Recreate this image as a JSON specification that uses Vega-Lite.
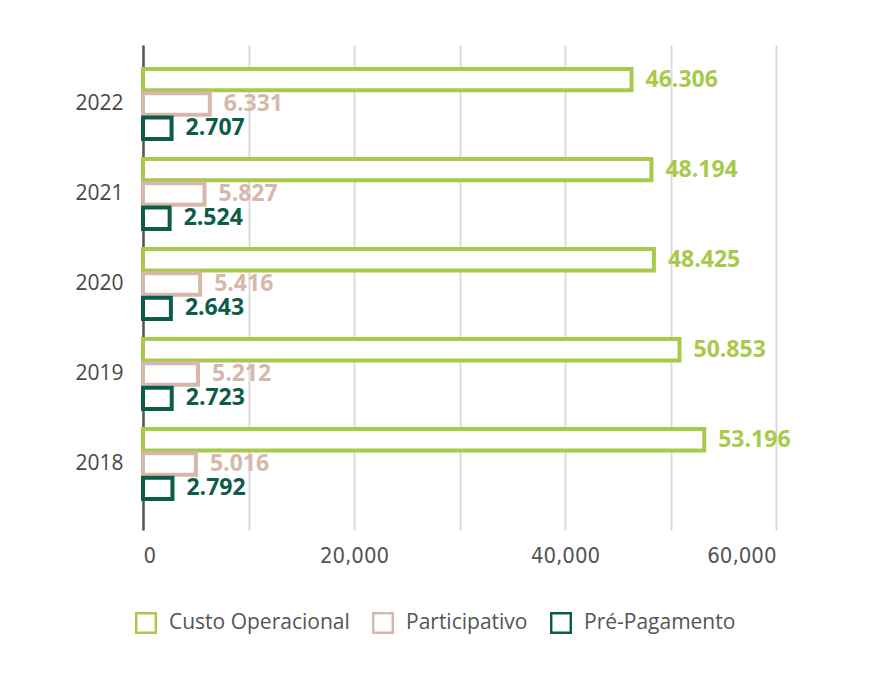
{
  "$schema": "https://vega.github.io/schema/vega-lite/v6.json",
  "width": 633,
  "height": 485,
  "autosize": {"type": "none"},
  "padding": {"left": 143, "top": 45, "right": 101, "bottom": 143},
  "background": "white",
  "config": {
    "locale": {"number": {"decimal": ",", "thousands": ".", "grouping": [3], "currency": ["", ""]}},
    "view": {"stroke": null}
  },
  "data": {
    "values": [
      {"year": "2022", "serie": "Custo Operacional", "value": 46306},
      {"year": "2022", "serie": "Participativo", "value": 6331},
      {"year": "2022", "serie": "Pré-Pagamento", "value": 2707},
      {"year": "2021", "serie": "Custo Operacional", "value": 48194},
      {"year": "2021", "serie": "Participativo", "value": 5827},
      {"year": "2021", "serie": "Pré-Pagamento", "value": 2524},
      {"year": "2020", "serie": "Custo Operacional", "value": 48425},
      {"year": "2020", "serie": "Participativo", "value": 5416},
      {"year": "2020", "serie": "Pré-Pagamento", "value": 2643},
      {"year": "2019", "serie": "Custo Operacional", "value": 50853},
      {"year": "2019", "serie": "Participativo", "value": 5212},
      {"year": "2019", "serie": "Pré-Pagamento", "value": 2723},
      {"year": "2018", "serie": "Custo Operacional", "value": 53196},
      {"year": "2018", "serie": "Participativo", "value": 5016},
      {"year": "2018", "serie": "Pré-Pagamento", "value": 2792}
    ]
  },
  "encoding": {
    "y": {
      "field": "year", "type": "nominal", "sort": "descending",
      "scale": {"paddingInner": 0, "paddingOuter": 0.194, "align": 0.4},
      "axis": {"title": null, "domainColor": "#555555", "domainWidth": 2.5, "ticks": false, "labelPadding": 20, "labelFontSize": 21, "labelColor": "#474747", "labelFont": "Open Sans", "grid": false}
    },
    "yOffset": {
      "field": "serie", "type": "nominal",
      "sort": ["Custo Operacional", "Participativo", "Pré-Pagamento"],
      "scale": {"paddingInner": 0.12, "paddingOuter": 0.41}
    },
    "x": {
      "field": "value", "type": "quantitative",
      "scale": {"domain": [0, 60000]},
      "axis": {
        "title": null,
        "values": [0, 10000, 20000, 30000, 40000, 50000, 60000],
        "labelExpr": "datum.value % 20000 === 0 ? replace(datum.label, '.', ',') : ''",
        "domain": false, "ticks": false,
        "gridColor": "#dcdcdc", "gridWidth": 2,
        "labelPadding": 15, "labelFontSize": 22, "labelFont": "DejaVu Sans Condensed, Roboto Condensed, Roboto, sans-serif", "labelColor": "#555555"
      }
    }
  },
  "layer": [
    {
      "mark": {"type": "bar", "fill": "white", "strokeWidth": 4},
      "encoding": {
        "stroke": {
          "field": "serie", "type": "nominal",
          "scale": {"domain": ["Custo Operacional", "Participativo", "Pré-Pagamento"], "range": ["#a8c94a", "#d5b8ab", "#0d5c4a"]},
          "legend": {
            "orient": "none", "legendX": -8, "legendY": 567, "direction": "horizontal", "title": null,
            "symbolType": "M-1,-1H1V1H-1Z M-0.78,-0.78V0.78H0.78V-0.78Z",
            "symbolSize": 484, "symbolStrokeWidth": 0,
            "labelFontSize": 21, "labelFont": "Open Sans", "labelColor": "#555555", "labelLimit": 400,
            "columnPadding": 22, "labelOffset": 12
          }
        }
      }
    },
    {
      "mark": {"type": "text", "align": "left", "baseline": "middle", "dx": 14, "fontSize": 23, "fontWeight": "bold", "font": "Open Sans"},
      "encoding": {
        "text": {"field": "value", "type": "quantitative", "format": ","},
        "color": {
          "field": "serie", "type": "nominal",
          "scale": {"domain": ["Custo Operacional", "Participativo", "Pré-Pagamento"], "range": ["#a8c94a", "#d5b8ab", "#0d5c4a"]},
          "legend": null
        }
      }
    }
  ]
}
